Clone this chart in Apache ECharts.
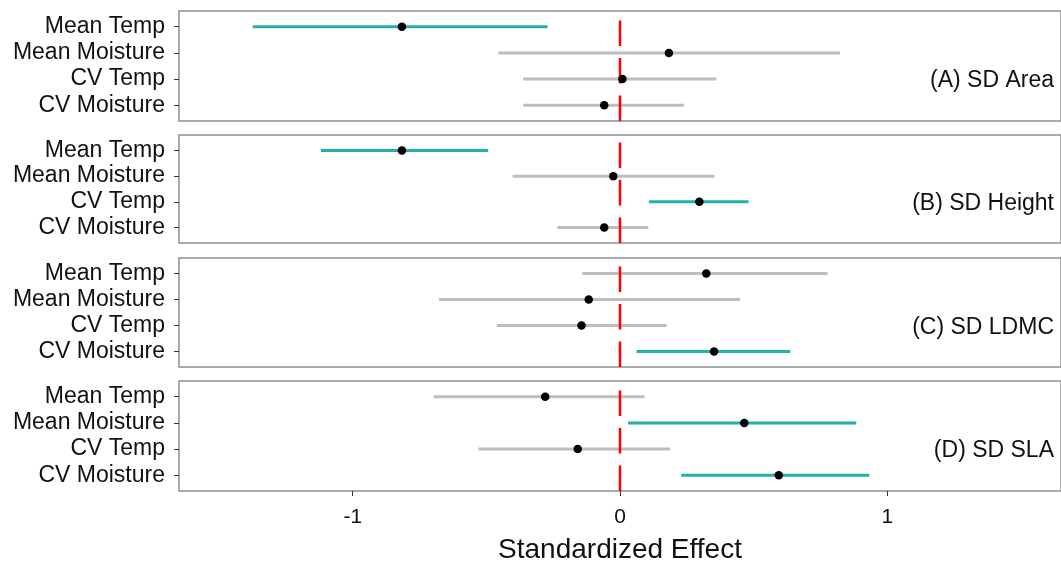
<!DOCTYPE html>
<html>
<head>
<meta charset="utf-8">
<script src="https://cdn.jsdelivr.net/npm/echarts@6/dist/echarts.min.js"></script>
<style>
html,body{margin:0;padding:0;background:#fff;}
#chart{width:1061px;height:565px;}
</style>
</head>
<body>
<div id="chart"></div>
<script>
// ---- data ----
const categories = ['Mean Temp', 'Mean Moisture', 'CV Temp', 'CV Moisture'];
const panelLabels = ['(A) SD Area', '(B) SD Height', '(C) SD LDMC', '(D) SD SLA'];
const xTicks = [-1, 0, 1];

const areaEst   = [-0.816, 0.183, 0.009, -0.059];
const areaLow   = [-1.374, -0.455, -0.362, -0.362];
const areaHigh  = [-0.271, 0.823, 0.361, 0.240];

const heightEst  = [-0.816, -0.025, 0.297, -0.059];
const heightLow  = [-1.119, -0.402, 0.108, -0.234];
const heightHigh = [-0.493, 0.354, 0.481, 0.106];

const ldmcEst  = [0.323, -0.117, -0.144, 0.352];
const ldmcLow  = [-0.141, -0.677, -0.461, 0.062];
const ldmcHigh = [0.777, 0.449, 0.174, 0.637];

const slaEst  = [-0.280, 0.465, -0.158, 0.594];
const slaLow  = [-0.698, 0.030, -0.530, 0.229];
const slaHigh = [0.092, 0.884, 0.187, 0.933];

const panels = [
  [areaEst, areaLow, areaHigh],
  [heightEst, heightLow, heightHigh],
  [ldmcEst, ldmcLow, ldmcHigh],
  [slaEst, slaLow, slaHigh]
];

// ---- layout / style ----
const xMin = -1.65, xMax = 1.65;
const yMin = 0.4, yMax = 4.6;
const gridTops = [11, 135, 258, 381];
const gridHeights = [110, 108, 109, 110];
const TEAL = '#20B2AA', GREY = '#BEBEBE';
const FONT = '"Liberation Sans", Arial, sans-serif';
const TEXT = '#111';

const grids = [], xAxes = [], yAxes = [], series = [];
panels.forEach((p, i) => {
  const isLast = i === panels.length - 1;
  grids.push({
    left: 179, width: 884.4, top: gridTops[i], height: gridHeights[i],
    show: true, borderColor: '#8f8f8f', borderWidth: 1.5, backgroundColor: '#fff',
    containLabel: false
  });
  xAxes.push({
    type: 'value', gridIndex: i, min: xMin, max: xMax,
    axisLine: { show: false, onZero: false },
    splitLine: { show: false },
    axisTick: isLast ? { show: true, customValues: xTicks, length: 5, lineStyle: { color: '#333', width: 1 } } : { show: false },
    axisLabel: isLast ? {
      show: true, customValues: xTicks, margin: 16,
      fontFamily: FONT, fontSize: 21, color: TEXT,
      formatter: v => String(v)
    } : { show: false },
    name: isLast ? 'Standardized Effect' : '',
    nameLocation: 'middle', nameGap: 45,
    nameTextStyle: { fontFamily: FONT, fontSize: 28, color: TEXT }
  });
  yAxes.push({
    type: 'value', gridIndex: i, min: yMin, max: yMax, inverse: true,
    axisLine: { show: false, onZero: false },
    splitLine: { show: false },
    axisTick: { show: true, customValues: [1, 2, 3, 4], length: 5, lineStyle: { color: '#333', width: 1 } },
    axisLabel: {
      show: true, customValues: [1, 2, 3, 4], margin: 14,
      fontFamily: FONT, fontSize: 23, color: TEXT,
      formatter: v => categories[Math.round(v) - 1]
    }
  });

  const est = p[0], low = p[1], high = p[2];
  const barData = categories.map((c, k) => [low[k], high[k], k + 1]);
  series.push({
    type: 'custom', xAxisIndex: i, yAxisIndex: i, z: 2,
    encode: { x: [0, 1], y: 2 },
    data: barData,
    renderItem: (params, api) => {
      const lo = api.value(0), hi = api.value(1), y = api.value(2);
      const a = api.coord([lo, y]), b = api.coord([hi, y]);
      const sig = lo > 0 || hi < 0;
      return {
        type: 'line',
        shape: { x1: a[0], y1: a[1], x2: b[0], y2: b[1] },
        style: { stroke: sig ? TEAL : GREY, lineWidth: 3, lineCap: 'butt' }
      };
    },
    silent: true
  });
  // dashed zero reference line, drawn from the bottom of the panel upward
  series.push({
    type: 'custom', xAxisIndex: i, yAxisIndex: i, z: 3,
    encode: { x: 0, y: [1, 2] },
    data: [[0, yMax, yMin]],
    renderItem: (params, api) => {
      const a = api.coord([api.value(0), api.value(1)]);
      const b = api.coord([api.value(0), api.value(2)]);
      return {
        type: 'line',
        shape: { x1: a[0], y1: a[1], x2: b[0], y2: b[1] },
        style: { stroke: '#FF0000', lineWidth: 2.5, lineDash: [25.5, 12], lineCap: 'butt' }
      };
    },
    silent: true
  });
  series.push({
    type: 'scatter', xAxisIndex: i, yAxisIndex: i, z: 4,
    data: categories.map((c, k) => [est[k], k + 1]),
    symbol: 'circle', symbolSize: 8.5,
    itemStyle: { color: '#000', opacity: 1 }, silent: true
  });
  // panel label, anchored at the right edge on the 'CV Temp' row
  series.push({
    type: 'scatter', xAxisIndex: i, yAxisIndex: i, z: 5,
    data: [[xMax, 3]], symbolSize: 0, silent: true,
    itemStyle: { color: TEXT, opacity: 1 },
    label: {
      show: true, position: 'left', distance: 7, offset: [0, 2],
      formatter: panelLabels[i],
      fontFamily: FONT, fontSize: 23, color: TEXT, opacity: 1
    }
  });
});

const chart = echarts.init(document.getElementById('chart'), null, { renderer: 'canvas' });
chart.setOption({
  animation: false,
  backgroundColor: '#fff',
  grid: grids,
  xAxis: xAxes,
  yAxis: yAxes,
  series: series
});
</script>
</body>
</html>
